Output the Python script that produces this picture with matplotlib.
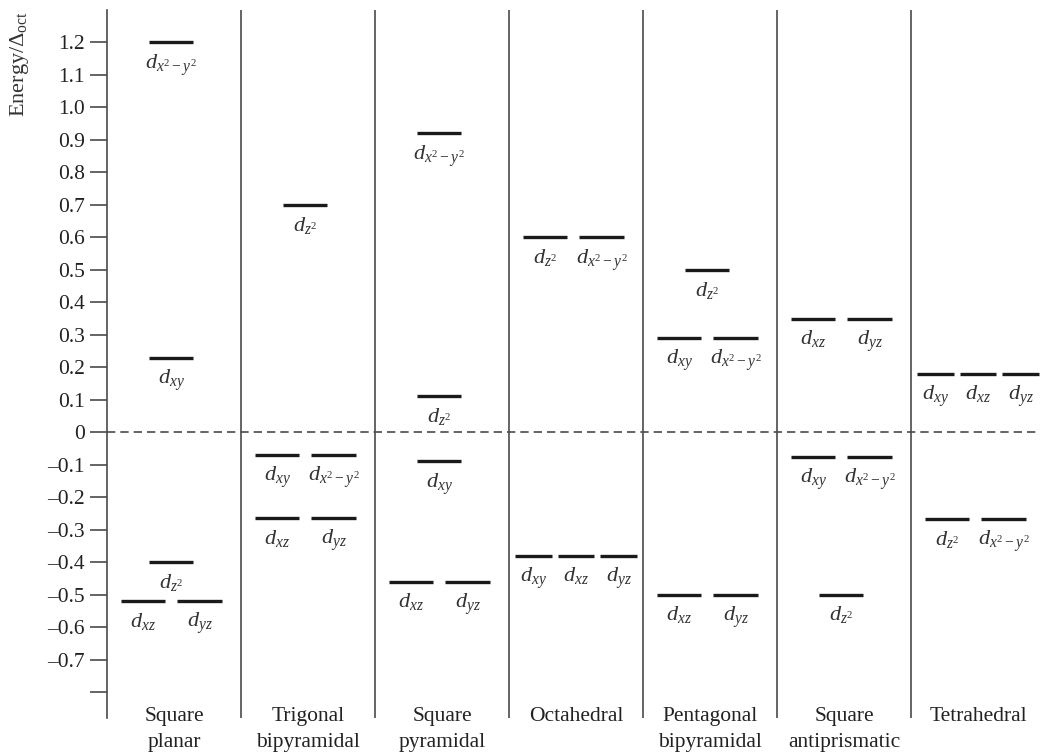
import numpy as np
import matplotlib.pyplot as plt
from matplotlib.transforms import blended_transform_factory

plt.rcParams['font.family'] = ['Liberation Serif', 'DejaVu Serif']
plt.rcParams['mathtext.fontset'] = 'custom'
plt.rcParams['mathtext.rm'] = 'Liberation Serif'
plt.rcParams['mathtext.it'] = 'Liberation Serif:italic'

# geometries and their d-orbital energy levels (in units of Delta_oct)
geometries = ["Square\nplanar", "Trigonal\nbipyramidal", "Square\npyramidal",
              "Octahedral", "Pentagonal\nbipyramidal", "Square\nantiprismatic",
              "Tetrahedral"]

square_planar = [1.20, 0.23, -0.40, -0.52]
trigonal_bipyramidal = [0.70, -0.07, -0.265]
square_pyramidal = [0.92, 0.11, -0.09, -0.46]
octahedral = [0.60, -0.38]
pentagonal_bipyramidal = [0.50, 0.29, -0.50]
square_antiprismatic = [0.35, -0.075, -0.50]
tetrahedral = [0.18, -0.268]

sp_orbitals = [["x^2-y^2"], ["xy"], ["z^2"], ["xz", "yz"]]
tbp_orbitals = [["z^2"], ["xy", "x^2-y^2"], ["xz", "yz"]]
spy_orbitals = [["x^2-y^2"], ["z^2"], ["xy"], ["xz", "yz"]]
oct_orbitals = [["z^2", "x^2-y^2"], ["xy", "xz", "yz"]]
pbp_orbitals = [["z^2"], ["xy", "x^2-y^2"], ["xz", "yz"]]
sap_orbitals = [["xz", "yz"], ["xy", "x^2-y^2"], ["z^2"]]
td_orbitals = [["xy", "xz", "yz"], ["z^2", "x^2-y^2"]]

energies = [square_planar, trigonal_bipyramidal, square_pyramidal, octahedral,
            pentagonal_bipyramidal, square_antiprismatic, tetrahedral]
orbitals = [sp_orbitals, tbp_orbitals, spy_orbitals, oct_orbitals,
            pbp_orbitals, sap_orbitals, td_orbitals]

yticks = [-0.8, -0.7, -0.6, -0.5, -0.4, -0.3, -0.2, -0.1, 0.0, 0.1, 0.2,
          0.3, 0.4, 0.5, 0.6, 0.7, 0.8, 0.9, 1.0, 1.1, 1.2]
ytick_labels = ["", "\u20130.7", "\u20130.6", "\u20130.5", "\u20130.4", "\u20130.3",
                "\u20130.2", "\u20130.1", "0", "0.1", "0.2", "0.3", "0.4", "0.5",
                "0.6", "0.7", "0.8", "0.9", "1.0", "1.1", "1.2"]

fig = plt.figure(figsize=(10.4, 7.56), dpi=100)
xmax = 6.97
ax = fig.add_axes([107/1040, 38/756, xmax*134/1040, 708/756])
ax.set_xlim(0, xmax)
ax.set_ylim(-0.88, 1.30)

line_col = '#4a4a4a'
for s in ['top', 'right', 'bottom']:
    ax.spines[s].set_visible(False)
ax.spines['left'].set_color(line_col)
ax.spines['left'].set_linewidth(1.2)
ax.set_xticks([])
ax.set_yticks(yticks)
ax.set_yticklabels(ytick_labels, fontsize=15.5, color='#222222')
ax.tick_params(axis='y', length=12, width=1.2, color=line_col, pad=4)

for i in range(1, len(geometries)):
    ax.axvline(i, color=line_col, lw=1.2)
ax.axhline(0, color=line_col, lw=1.2, ls=(0, (5, 3)))

bar_w = {1: 0.33, 2: 0.33, 3: 0.275}
spacing = {1: 0.0, 2: 0.42, 3: 0.32}
offset = {1: -0.02, 2: -0.02, 3: 0.0}

for col, (levels, groups) in enumerate(zip(energies, orbitals)):
    center = col + 0.5
    for e, grp in zip(levels, groups):
        n = len(grp)
        xs = center + offset[n] + (np.arange(n) - (n - 1) / 2) * spacing[n]
        for x, name in zip(xs, grp):
            ax.plot([x - bar_w[n] / 2, x + bar_w[n] / 2], [e, e],
                    color='#1a1a1a', lw=2.4, solid_capstyle='butt')
            ax.annotate(f"$d_{{{name}}}$", (x, e), xytext=(0, -7),
                        textcoords='offset points', ha='center', va='top',
                        fontsize=16, color='#333333')

trans = blended_transform_factory(ax.transData, ax.transAxes)
for col, name in enumerate(geometries):
    ax.text(col + 0.5, 0.016, name, transform=trans, ha='center', va='top',
            fontsize=15.5, color='#222222', linespacing=1.55)

fig.text(20/1040, 1 - 11/756, "Energy/\u0394$_{\\mathrm{oct}}$", rotation=90,
         ha='center', va='top', fontsize=16, color='#333333')

fig.savefig("out.png", dpi=100)
